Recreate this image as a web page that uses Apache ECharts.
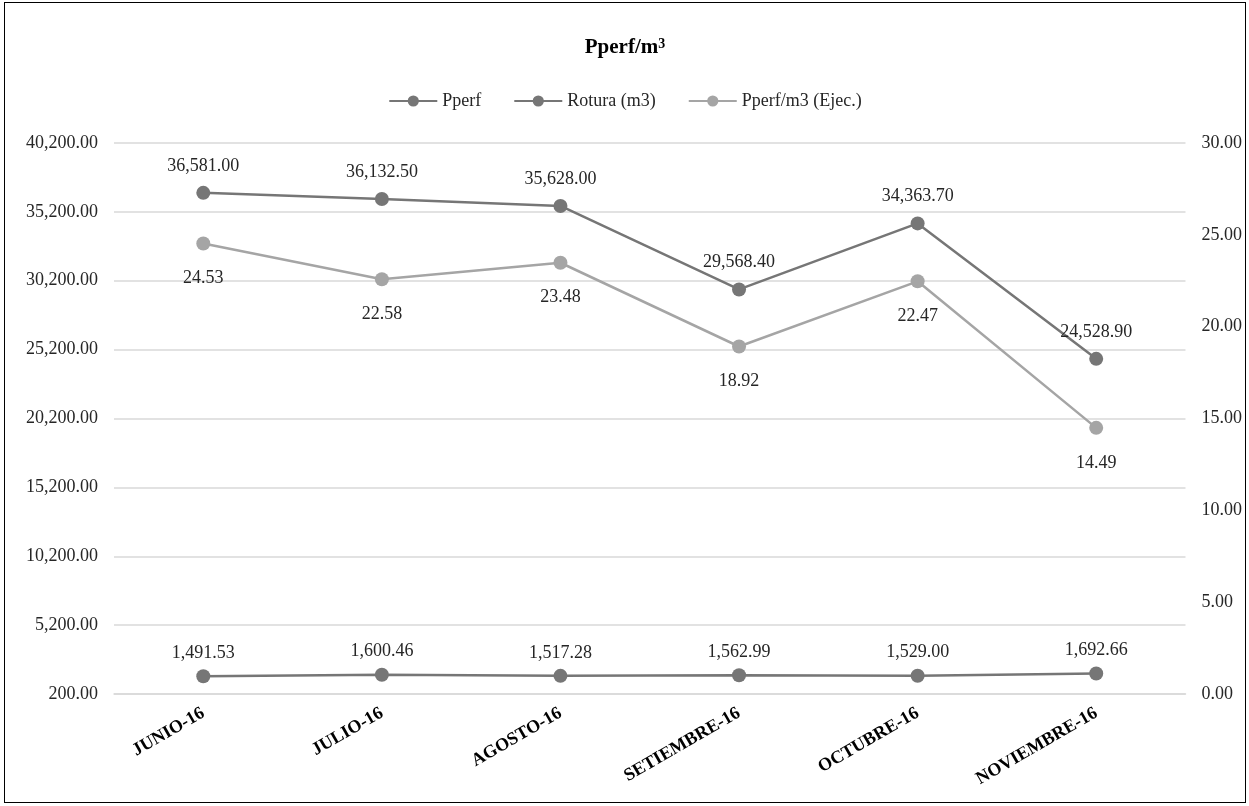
<!DOCTYPE html>
<html><head><meta charset="utf-8">
<script src="https://cdn.jsdelivr.net/npm/echarts@6/dist/echarts.min.js"></script>
<style>html,body{margin:0;padding:0;background:#fff}#c{position:absolute;left:4px;top:2px;width:1242px;height:801px;border:1.5px solid #000;box-sizing:border-box}</style>
</head><body><div id="c"></div>
<script>
const categories = ['JUNIO-16','JULIO-16','AGOSTO-16','SETIEMBRE-16','OCTUBRE-16','NOVIEMBRE-16'];
const pperf = [1491.53, 1600.46, 1517.28, 1562.99, 1529.00, 1692.66];
const rotura = [36581.00, 36132.50, 35628.00, 29568.40, 34363.70, 24528.90];
const pperfM3 = [24.53, 22.58, 23.48, 18.92, 22.47, 14.49];
const leftTicks = [200, 5200, 10200, 15200, 20200, 25200, 30200, 35200, 40200];

const fmt = v => Number(v).toLocaleString('en-US',{minimumFractionDigits:2,maximumFractionDigits:2});
const FONT = 'Liberation Serif';
const dark = '#767676', light = '#a5a5a5';
const chart = echarts.init(document.getElementById('c'));
const lbl = (pos, d) => ({show:true, position:pos, distance:d, color:'#262626', fontFamily:FONT, fontSize:18, formatter:p=>fmt(p.value)});
chart.setOption({
  animation:false,
  title:{text:'Pperf/m{s|3}', left:'center', top:29,
    textStyle:{fontFamily:FONT, fontSize:21, fontWeight:'bold', color:'#000',
      rich:{s:{fontFamily:FONT, fontSize:14, fontWeight:'bold', color:'#000', verticalAlign:'top', padding:[0,0,8,0]}}}},
  legend:{top:84, left:'center', itemWidth:48, itemHeight:14, itemGap:32, textStyle:{fontFamily:FONT, fontSize:18, color:'#262626'},
    data:['Pperf','Rotura (m3)','Pperf/m3 (Ejec.)']},
  grid:{left:109, right:59, top:140, bottom:108},
  xAxis:{type:'category', data:categories, boundaryGap:true,
    axisLine:{lineStyle:{color:'#d9d9d9', width:1.5}}, axisTick:{show:false},
    axisLabel:{rotate:30, interval:0, margin:18, fontFamily:FONT, fontWeight:'bold', fontSize:18, color:'#000'}},
  yAxis:[
    {type:'value', min:200, max:40200, position:'left',
     axisLine:{show:false}, axisTick:{show:false, customValues:leftTicks},
     axisLabel:{customValues:leftTicks, formatter:fmt, fontFamily:FONT, fontSize:18, color:'#262626', margin:16},
     splitLine:{show:true, lineStyle:{color:'#d9d9d9', width:1.5}}},
    {type:'value', min:0, max:30, interval:5, position:'right',
     axisLine:{show:false}, axisTick:{show:false},
     axisLabel:{formatter:fmt, fontFamily:FONT, fontSize:18, color:'#262626', margin:16},
     splitLine:{show:false}}
  ],
  series:[
    {name:'Pperf', type:'line', data:pperf, yAxisIndex:0, symbol:'circle', symbolSize:14, color:dark,
     lineStyle:{width:2.5, color:dark}, itemStyle:{color:dark}, label:lbl('top', 7)},
    {name:'Rotura (m3)', type:'line', data:rotura, yAxisIndex:0, symbol:'circle', symbolSize:14, color:dark,
     lineStyle:{width:2.5, color:dark}, itemStyle:{color:dark}, label:lbl('top', 11)},
    {name:'Pperf/m3 (Ejec.)', type:'line', data:pperfM3, yAxisIndex:1, symbol:'circle', symbolSize:14, color:light,
     lineStyle:{width:2.5, color:light}, itemStyle:{color:light}, label:lbl('bottom', 19)}
  ]
});
</script></body></html>
